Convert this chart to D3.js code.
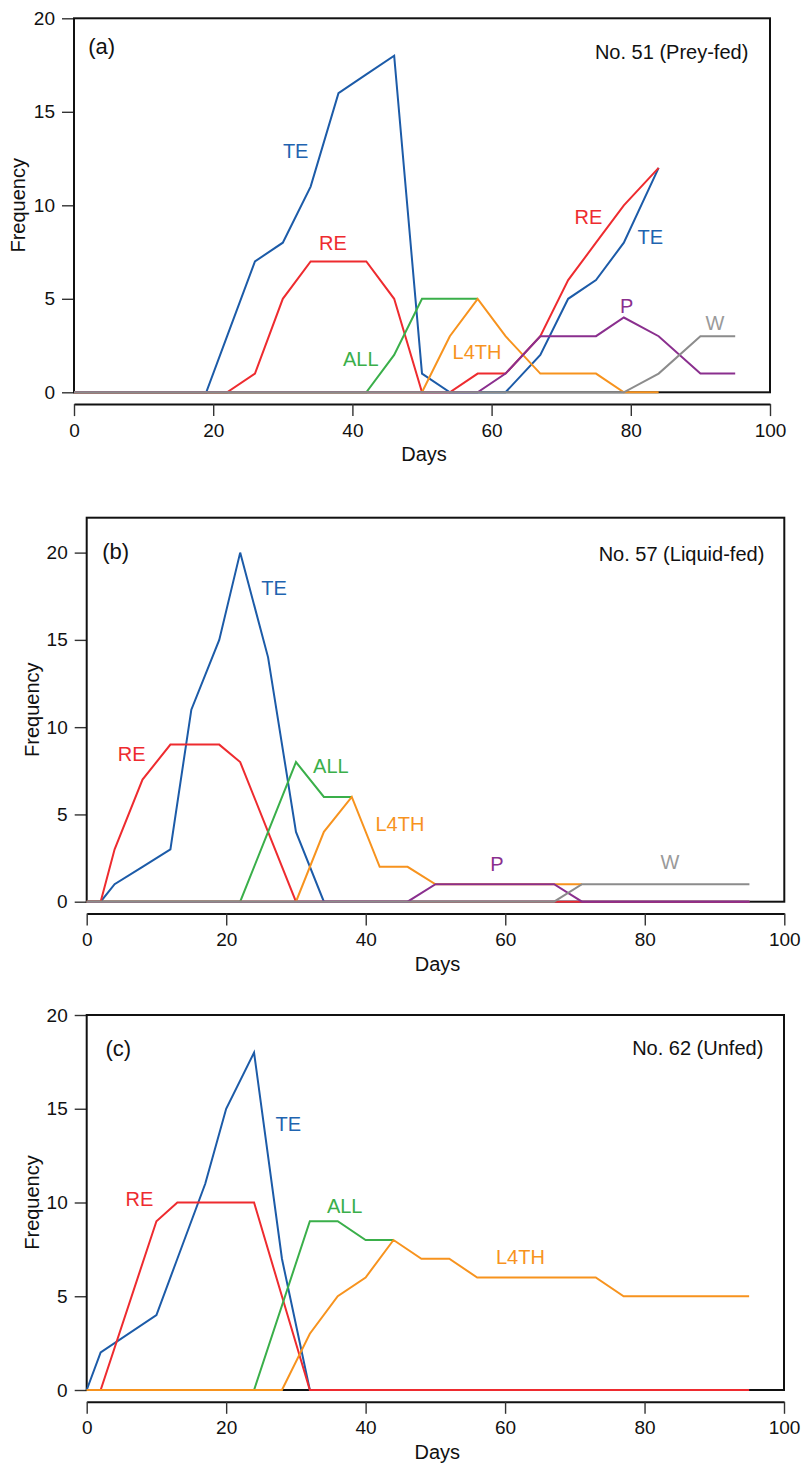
<!DOCTYPE html>
<html>
<head>
<meta charset="utf-8">
<script src="https://cdn.jsdelivr.net/npm/d3@7"></script>
<style>
  html, body { margin: 0; padding: 0; background: #fff; }
  svg { display: block; }
  text { font-family: "Liberation Sans", Arial, Helvetica, sans-serif; fill: #111; }
</style>
</head>
<body>
<svg id="chart" width="803" height="1463"></svg>
<script>
// ---------------- DATA ----------------
// Panel (a) No. 51 (Prey-fed)
const daysA = [0, 19, 22, 26, 30, 34, 38, 42, 46, 50, 54, 58, 62, 67, 71, 75, 79, 84, 90, 95];
const teA   = [0, 0, 3, 7, 8, 11, 16, 17, 18, 1, 0, 0, 0, 2, 5, 6, 8, 12, null, null];
const reA   = [0, 0, 0, 1, 5, 7, 7, 7, 5, 0, 0, 1, 1, 3, 6, 8, 10, 12, null, null];
const allA  = [0, 0, 0, 0, 0, 0, 0, 0, 2, 5, 5, 5, null, null, null, null, null, null, null, null];
const l4thA = [0, 0, 0, 0, 0, 0, 0, 0, 0, 0, 3, 5, 3, 1, 1, 1, 0, 0, null, null];
const pA    = [0, 0, 0, 0, 0, 0, 0, 0, 0, 0, 0, 0, 1, 3, 3, 3, 4, 3, 1, 1];
const wA    = [0, 0, 0, 0, 0, 0, 0, 0, 0, 0, 0, 0, 0, 0, 0, 0, 0, 1, 3, 3];

// Panel (b) No. 57 (Liquid-fed)
const daysB = [0, 2, 4, 8, 12, 15, 19, 22, 26, 30, 34, 38, 42, 46, 50, 54, 58, 62, 67, 71, 75, 79, 84, 90, 95];
const teB   = [0, 0, 1, 2, 3, 11, 15, 20, 14, 4, 0, 0, 0, 0, 0, 0, 0, 0, 0, 0, 0, 0, 0, 0, 0];
const reB   = [0, 0, 3, 7, 9, 9, 9, 8, 4, 0, 0, 0, 0, 0, 0, 0, 0, 0, 0, 0, 0, 0, 0, 0, 0];
const allB  = [0, 0, 0, 0, 0, 0, 0, 0, 4, 8, 6, 6, null, null, null, null, null, null, null, null, null, null, null, null, null];
const l4thB = [0, 0, 0, 0, 0, 0, 0, 0, 0, 0, 4, 6, 2, 2, 1, 1, 1, 1, 1, 1, null, null, null, null, null];
const pB    = [0, 0, 0, 0, 0, 0, 0, 0, 0, 0, 0, 0, 0, 0, 1, 1, 1, 1, 1, 0, 0, 0, 0, 0, 0];
const wB    = [0, 0, 0, 0, 0, 0, 0, 0, 0, 0, 0, 0, 0, 0, 0, 0, 0, 0, 0, 1, 1, 1, 1, 1, 1];

// Panel (c) No. 62 (Unfed)
const daysC = [0, 2, 10, 13, 17, 20, 24, 28, 32, 36, 40, 44, 48, 52, 56, 60, 64, 69, 73, 77, 81, 86, 90, 95];
const teC   = [0, 2, 4, 7, 11, 15, 18, 7, 0, 0, 0, 0, 0, 0, 0, 0, 0, 0, 0, 0, 0, 0, 0, 0];
const reC   = [0, 0, 9, 10, 10, 10, 10, 5, 0, 0, 0, 0, 0, 0, 0, 0, 0, 0, 0, 0, 0, 0, 0, 0];
const allC  = [0, 0, 0, 0, 0, 0, 0, null, 9, 9, 8, 8, null, null, null, null, null, null, null, null, null, null, null, null];
const l4thC = [0, 0, 0, 0, 0, 0, 0, 0, 3, 5, 6, 8, 7, 7, 6, 6, 6, 6, 6, 5, 5, 5, 5, 5];

const xTicks = [0, 20, 40, 60, 80, 100];
const yTicks = [0, 5, 10, 15, 20];
const panelLetters = ["(a)", "(b)", "(c)"];
const panelTitles = ["No. 51 (Prey-fed)", "No. 57 (Liquid-fed)", "No. 62 (Unfed)"];

// label anchors (day, frequency)
const labelsA = [["TE", 31.85, 12.9], ["RE", 37.2, 8.0], ["ALL", 41.2, 1.8], ["L4TH", 57.9, 2.15],
                 ["RE", 73.9, 9.4], ["TE", 82.8, 8.3], ["P", 79.4, 4.6], ["W", 92.1, 3.7]];
const labelsB = [["TE", 26.85, 18.0], ["RE", 6.45, 8.45], ["ALL", 35.0, 7.8], ["L4TH", 44.9, 4.45],
                 ["P", 58.8, 2.15], ["W", 83.6, 2.3]];
const labelsC = [["TE", 28.9, 14.2], ["RE", 7.55, 10.2], ["ALL", 37.0, 9.8], ["L4TH", 62.2, 7.1]];

// ---------------- STYLE / LAYOUT ----------------
const colors = { TE: "#1c5ba8", RE: "#ee2b2f", ALL: "#3aaf4a", L4TH: "#f7931e", P: "#8a2f8e", W: "#8c8c8c" };
const labelColors = { TE: "#1f64b0", RE: "#ee2b2f", ALL: "#3aaf4a", L4TH: "#f7931e", P: "#8a2f8e", W: "#9a9a9a" };

const panels = [
  { left: 74, right: 770, top: 18.3, bottom: 392.3, yMax: 20, days: daysA,
    series: [["TE", teA], ["RE", reA], ["ALL", allA], ["L4TH", l4thA], ["P", pA], ["W", wA]],
    labels: labelsA, letterOff: [27.7, 28.4], titleOff: [21.7, 34], yLabX: 56 },
  { left: 86.7, right: 784.3, top: 517.7, bottom: 901.7, yMax: 22, days: daysB,
    series: [["TE", teB], ["RE", reB], ["ALL", allB], ["L4TH", l4thB], ["P", pB], ["W", wB]],
    labels: labelsB, letterOff: [29, 33.3], titleOff: [20, 36.3], yLabX: 55 },
  { left: 86.7, right: 784, top: 1015, bottom: 1390, yMax: 20, days: daysC,
    series: [["TE", teC], ["RE", reC], ["ALL", allC], ["L4TH", l4thC]],
    labels: labelsC, letterOff: [31.6, 33.3], titleOff: [20.7, 33.3], yLabX: 55 }
];

const svg = d3.select("#chart");

panels.forEach((p, i) => {
  const x = d3.scaleLinear().domain([0, 100]).range([p.left, p.right]);
  const y = d3.scaleLinear().domain([0, p.yMax]).range([p.bottom, p.top]);
  const g = svg.append("g");

  // y axis ticks (left of frame)
  const yAx = g.append("g").attr("transform", `translate(${p.left},0)`)
    .call(d3.axisLeft(y).tickValues(yTicks).tickSize(12).tickPadding(7));
  yAx.select(".domain").remove();
  yAx.selectAll(".tick line").attr("stroke", "#333").attr("stroke-width", 1.4);
  yAx.selectAll(".tick text").attr("font-size", 19).style("font-family", '"Liberation Sans", Arial, sans-serif').attr("fill", "#111");

  // x axis below frame
  const axisY = p.bottom + 11.8;
  const xAx = g.append("g").attr("transform", `translate(0,${axisY})`)
    .call(d3.axisBottom(x).tickValues(xTicks).tickSize(12).tickPadding(7).tickSizeOuter(0));
  xAx.select(".domain").attr("stroke", "#111").attr("stroke-width", 2);
  xAx.selectAll(".tick line").attr("stroke", "#333").attr("stroke-width", 1.4);
  xAx.selectAll(".tick text").attr("font-size", 19).style("font-family", '"Liberation Sans", Arial, sans-serif').attr("fill", "#111");

  // frame
  g.append("rect")
    .attr("x", p.left).attr("y", p.top)
    .attr("width", p.right - p.left).attr("height", p.bottom - p.top)
    .attr("fill", "none").attr("stroke", "#111").attr("stroke-width", 2);

  // lines
  const line = d3.line().x(d => x(d[0])).y(d => y(d[1]));
  p.series.forEach(([name, vals]) => {
    const pts = p.days.map((d, k) => [d, vals[k]]).filter(d => d[1] !== null);
    g.append("path").datum(pts)
      .attr("d", line)
      .attr("fill", "none")
      .attr("stroke", colors[name])
      .attr("stroke-width", 2)
      .attr("stroke-linejoin", "miter");
  });

  // series labels
  p.labels.forEach(([name, d, v]) => {
    g.append("text")
      .attr("x", x(d)).attr("y", y(v))
      .attr("text-anchor", "middle").attr("dominant-baseline", "central")
      .attr("font-size", 20)
      .style("fill", labelColors[name])
      .text(name);
  });

  // panel letter
  g.append("text")
    .attr("x", p.left + p.letterOff[0]).attr("y", p.top + p.letterOff[1])
    .attr("text-anchor", "middle").attr("dominant-baseline", "central")
    .attr("font-size", 22).text(panelLetters[i]);

  // title
  g.append("text")
    .attr("x", p.right - p.titleOff[0]).attr("y", p.top + p.titleOff[1])
    .attr("text-anchor", "end").attr("dominant-baseline", "central")
    .attr("font-size", 20).text(panelTitles[i]);

  // axis titles
  g.append("text")
    .attr("x", (p.left + p.right) / 2 + 2).attr("y", axisY + 50)
    .attr("text-anchor", "middle").attr("dominant-baseline", "central")
    .attr("font-size", 20).text("Days");
  g.append("text")
    .attr("transform", `translate(${p.left - p.yLabX},${(p.top + p.bottom) / 2}) rotate(-90)`)
    .attr("text-anchor", "middle").attr("dominant-baseline", "central")
    .attr("font-size", 20).text("Frequency");
});
</script>
</body>
</html>
